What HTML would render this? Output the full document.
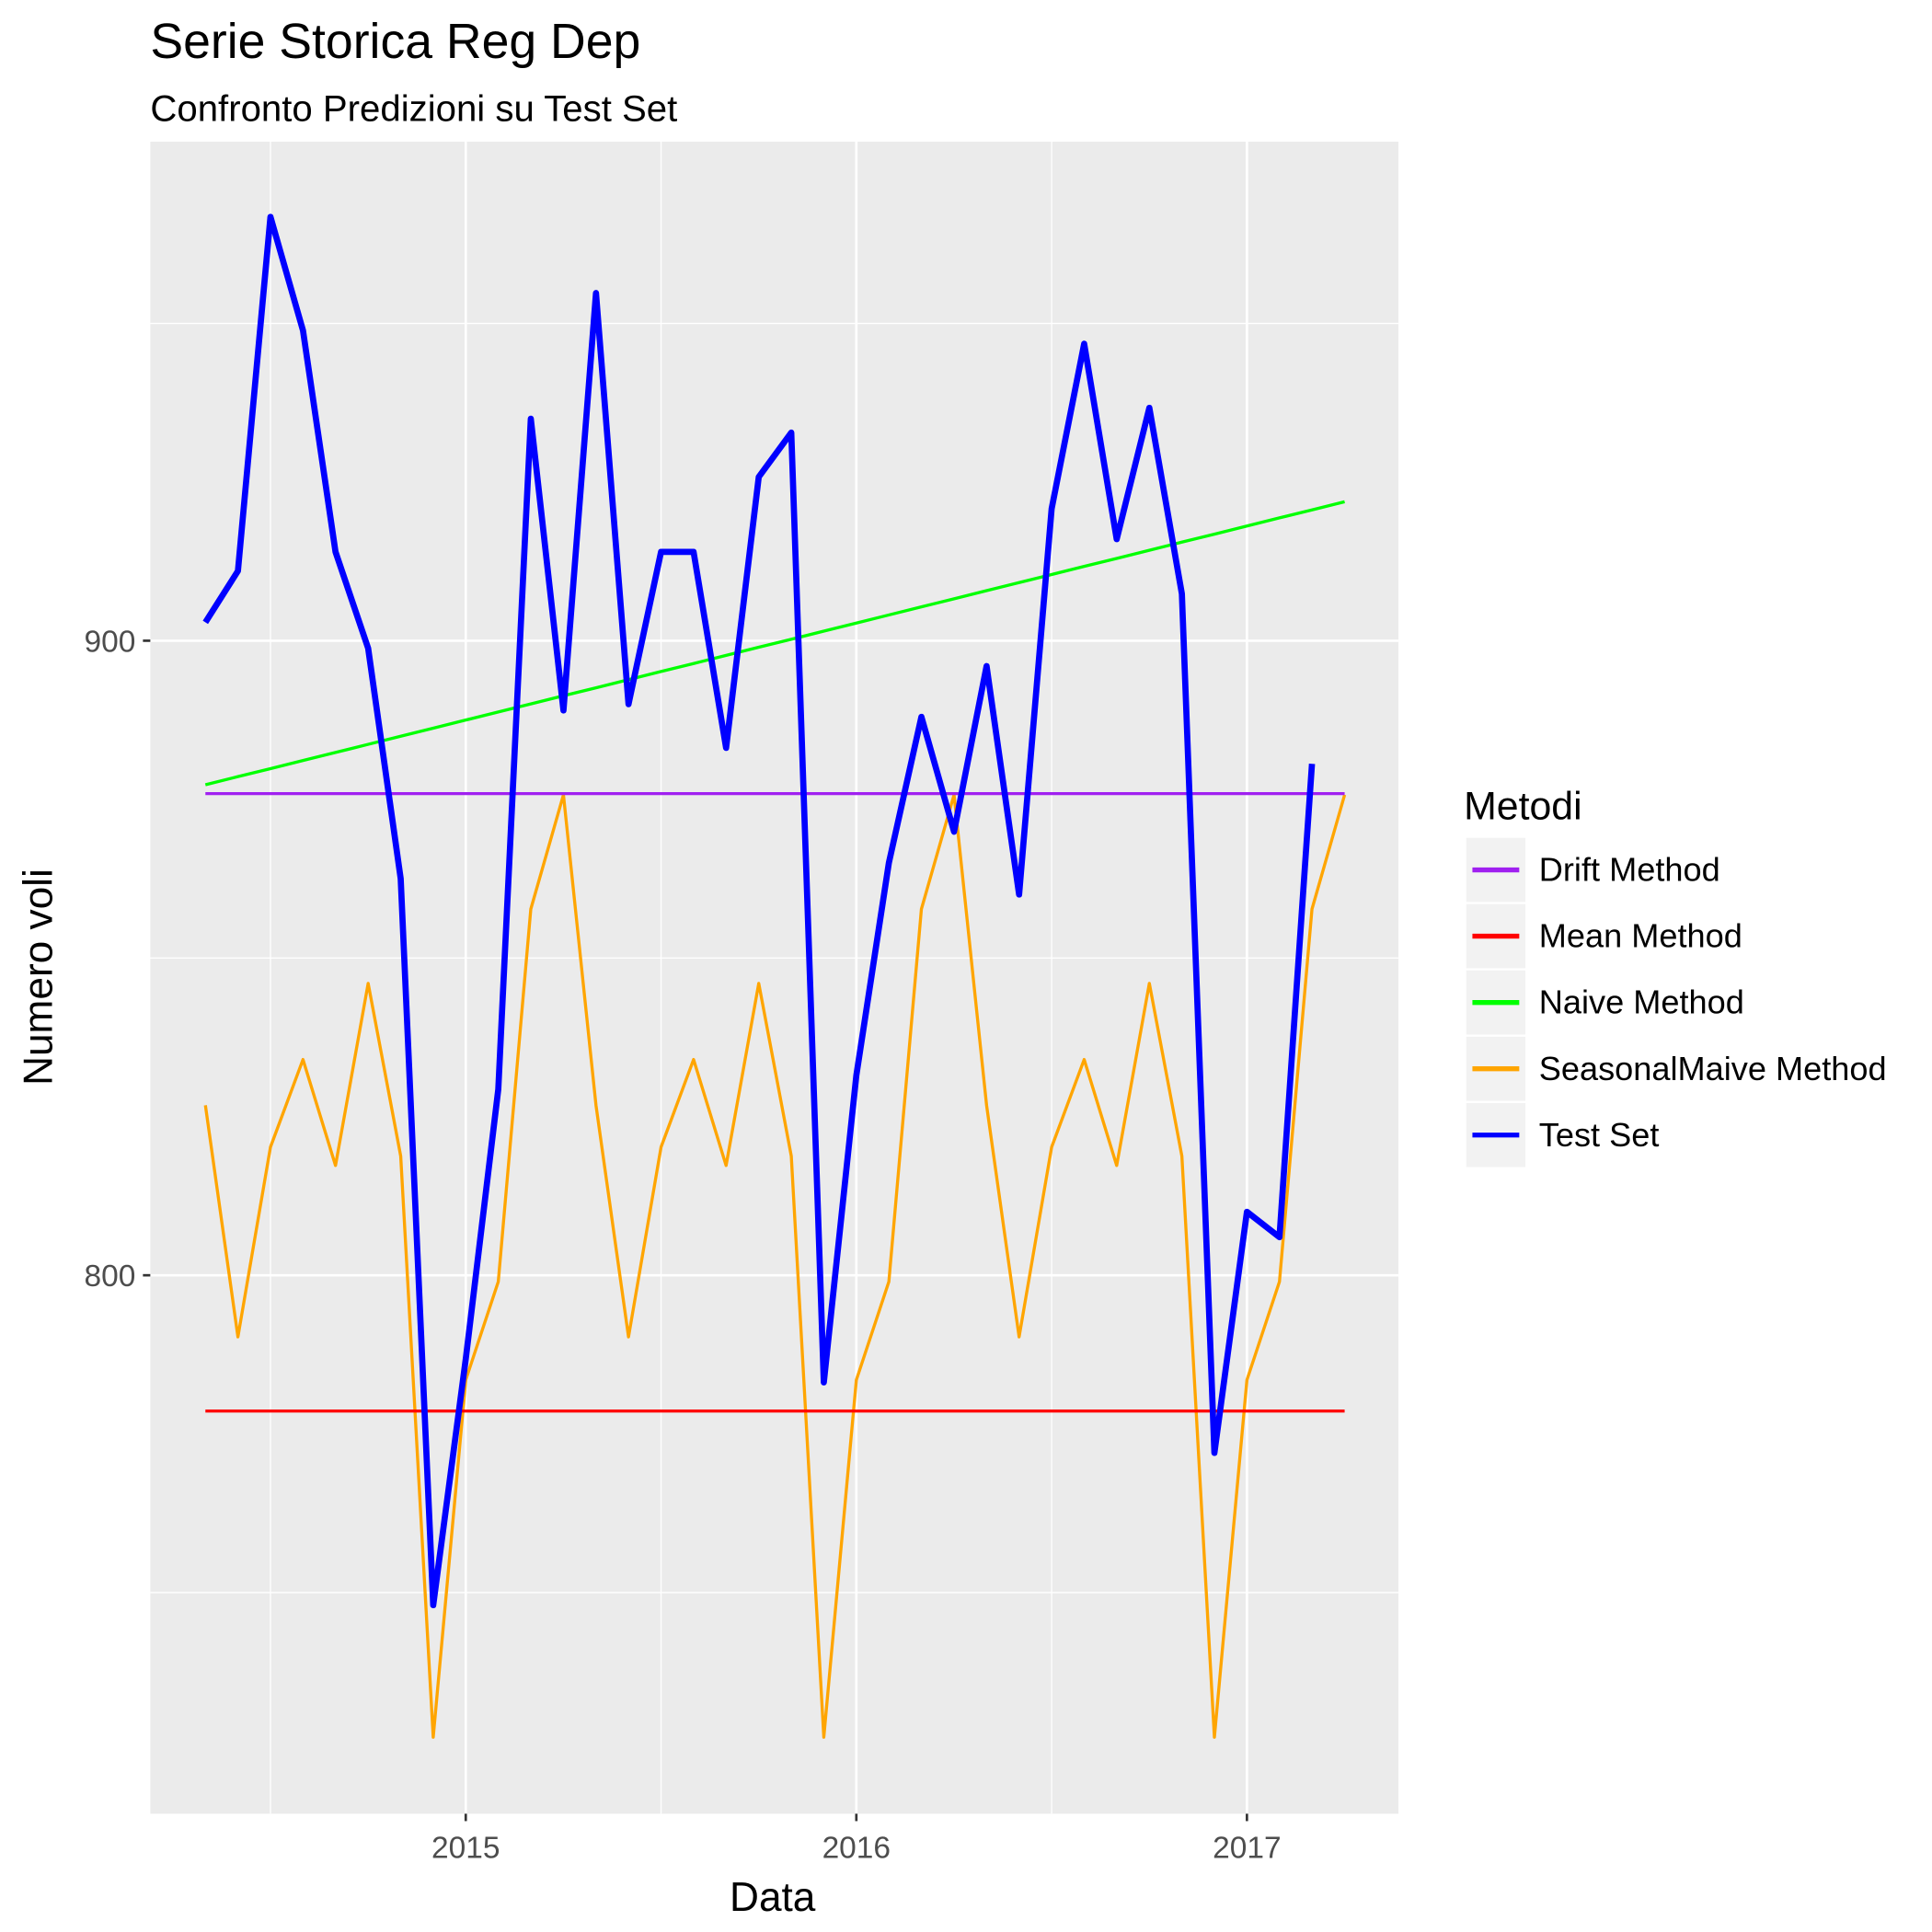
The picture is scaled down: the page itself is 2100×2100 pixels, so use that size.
<!DOCTYPE html>
<html><head><meta charset="utf-8"><style>html,body{margin:0;padding:0;background:#fff}svg{display:block}text{font-family:"Liberation Sans",Arial,sans-serif}</style></head>
<body>
<svg id="chart" width="2100" height="2100" viewBox="0 0 1568 1568" xmlns="http://www.w3.org/2000/svg">
<text x="122" y="47" font-size="40" fill="#000">Serie Storica Reg Dep</text>
<text x="122" y="98" font-size="30" fill="#000">Confronto Predizioni su Test Set</text>
<rect x="122" y="115" width="1013" height="1357" fill="#ebebeb"/>
<g id="grid"></g>
<g id="series"></g>
<g id="axes"></g>
<text x="627" y="1551" font-size="33" text-anchor="middle">Data</text>
<text transform="translate(42,793) rotate(-90)" font-size="33" text-anchor="middle">Numero voli</text>
<text x="1188" y="665" font-size="32">Metodi</text>
<g id="legend"></g>
</svg>
<script>
const startYear = 2014 + 4/12;
const testSet = [902.9,911,966.8,948.9,914,898.8,862.5,748,786.8,829.3,935,889,954.8,890,914,914,883.1,925.8,932.8,783.1,831.5,865,888,869.9,896,860,920.8,946.8,916,936.7,907.4,772,810,806,880.6];
const seasonalCycle = [826.8,790.3,820.2,834,817.3,846,818.8,727.2,783.5,799,857.7,875.7];
const driftValue = 875.9;
const meanValue = 778.6;
const naiveStart = 877.3, naiveEnd = 921.9;
const forecastLen = 36;
const yTicks = [800, 900];
const yMinor = [750, 850, 950];
const xTicks = [2015, 2016, 2017];
const xMinor = [2014.5, 2015.5, 2016.5];
const legendNames = ["Drift Method","Mean Method","Naive Method","SeasonalMaive Method","Test Set"];
const legendColors = ["#a020f0","#ff0000","#00ff00","#ffa500","#0000ff"];

const NS = "http://www.w3.org/2000/svg";
const xs = t => 378 + (t - 2015) * 317;
const ys = v => 520 - (v - 900) * 5.15;
function mk(tag, attrs, parent){const e=document.createElementNS(NS,tag);for(const k in attrs)e.setAttribute(k,attrs[k]);parent.appendChild(e);return e;}
const grid=document.getElementById('grid'), series=document.getElementById('series'), axes=document.getElementById('axes'), legend=document.getElementById('legend');

yMinor.forEach(v=>{const l=mk('line',{x1:122,x2:1135,y1:ys(v),y2:ys(v),stroke:'#fff','stroke-width':1},grid);

});
xMinor.forEach(t=>{const l=mk('line',{x1:xs(t),x2:xs(t),y1:115,y2:1472,stroke:'#fff','stroke-width':1},grid);

});
yTicks.forEach(v=>{const l=mk('line',{x1:122,x2:1135,y1:ys(v),y2:ys(v),stroke:'#fff','stroke-width':2},grid);


mk('line',{x1:116,x2:122,y1:ys(v),y2:ys(v),stroke:'#333','stroke-width':2},axes);
const t=mk('text',{x:110,y:ys(v)+9,'font-size':25,fill:'#4d4d4d','text-anchor':'end'},axes);t.textContent=v;

});
xTicks.forEach(v=>{const l=mk('line',{x1:xs(v),x2:xs(v),y1:115,y2:1472,stroke:'#fff','stroke-width':2},grid);


mk('line',{x1:xs(v),x2:xs(v),y1:1472,y2:1478,stroke:'#333','stroke-width':2},axes);
const t=mk('text',{x:xs(v),y:1508,'font-size':25,fill:'#4d4d4d','text-anchor':'middle'},axes);t.textContent=v;

});

function line(vals,color,w,name){const pts=vals.map((v,i)=>xs(startYear+i/12).toFixed(1)+','+ys(v).toFixed(1)).join(' ');
const p=mk('polyline',{points:pts,fill:'none',stroke:color,'stroke-width':w,'stroke-linejoin':'round'},series);

}
const seasonal=[];for(let i=0;i<forecastLen;i++)seasonal.push(seasonalCycle[i%12]);
const naive=[];for(let i=0;i<forecastLen;i++)naive.push(naiveStart+(naiveEnd-naiveStart)*i/(forecastLen-1));
line(seasonal,'#ffa500',2.5,'seasonal-naive-line');
line(Array(forecastLen).fill(meanValue),'#ff0000',2.5,'mean-line');
line(Array(forecastLen).fill(driftValue),'#a020f0',2.5,'drift-line');
line(naive,'#00ff00',2.5,'naive-line');
line(testSet,'#0000ff',5,'test-set-line');

legendNames.forEach((n,i)=>{const cy=706+i*53.8;
const r=mk('rect',{x:1190,y:cy-26,width:48,height:52,fill:'#f2f2f2'},legend);


mk('line',{x1:1195,x2:1233,y1:cy,y2:cy,stroke:legendColors[i],'stroke-width':4},legend);
const t=mk('text',{x:1249,y:cy+9,'font-size':27},legend);t.textContent=n;

});
</script>
</body></html>
